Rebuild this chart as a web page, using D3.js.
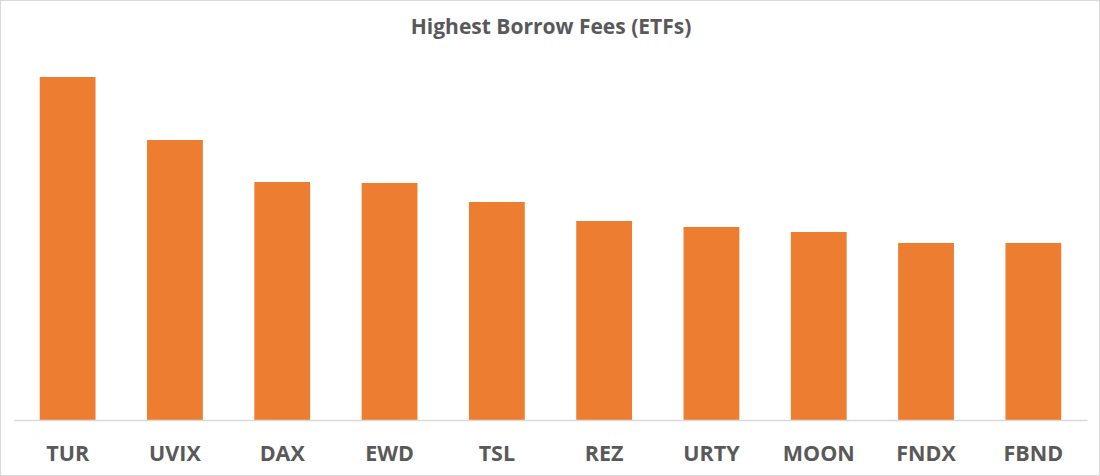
<!DOCTYPE html>
<html>
<head>
<meta charset="utf-8">
<script src="https://cdn.jsdelivr.net/npm/d3@7"></script>
<style>
  html, body { margin: 0; padding: 0; background: #fff; }
  svg { display: block; }
</style>
</head>
<body>
<div id="chart"></div>
<script>
const title = "Highest Borrow Fees (ETFs)";
const categories = ["TUR", "UVIX", "DAX", "EWD", "TSL", "REZ", "URTY", "MOON", "FNDX", "FBND"];
const fees = [34.3, 28.0, 23.8, 23.7, 21.8, 19.9, 19.3, 18.8, 17.7, 17.7];

const W = 1100, H = 476;
const svg = d3.select("#chart").append("svg").attr("width", W).attr("height", H);

svg.append("rect").attr("x", 0.5).attr("y", 0.5).attr("width", W - 1).attr("height", H - 1)
  .attr("fill", "#fff").attr("stroke", "#d9d9d9").attr("stroke-width", 1);

const x = d3.scaleBand().domain(categories).range([14, 1087]).paddingInner(0.48).paddingOuter(0.24);
const y = d3.scaleLinear().domain([0, 40]).range([420, 20]);

svg.append("g").selectAll("rect").data(categories).join("rect")
  .attr("x", d => x(d))
  .attr("width", x.bandwidth())
  .attr("y", (d, i) => y(fees[i]))
  .attr("height", (d, i) => y(0) - y(fees[i]))
  .attr("fill", "#ed7d31");

const axis = svg.append("g").attr("transform", "translate(0,420)")
  .call(d3.axisBottom(x).tickSize(0).tickPadding(0));
axis.select(".domain").attr("stroke", "#d9d9d9").attr("stroke-width", 1.3);
axis.selectAll("text")
  .attr("y", 41).attr("dy", null)
  .attr("font-family", "'Open Sans', sans-serif")
  .attr("font-weight", 700)
  .attr("font-size", 21.5)
  .attr("fill", "#595959");

svg.append("text").attr("x", 551).attr("y", 34).attr("text-anchor", "middle")
  .attr("font-family", "'Open Sans', sans-serif")
  .attr("font-weight", 700)
  .attr("font-size", 21)
  .attr("fill", "#595959")
  .text(title);
</script>
</body>
</html>
